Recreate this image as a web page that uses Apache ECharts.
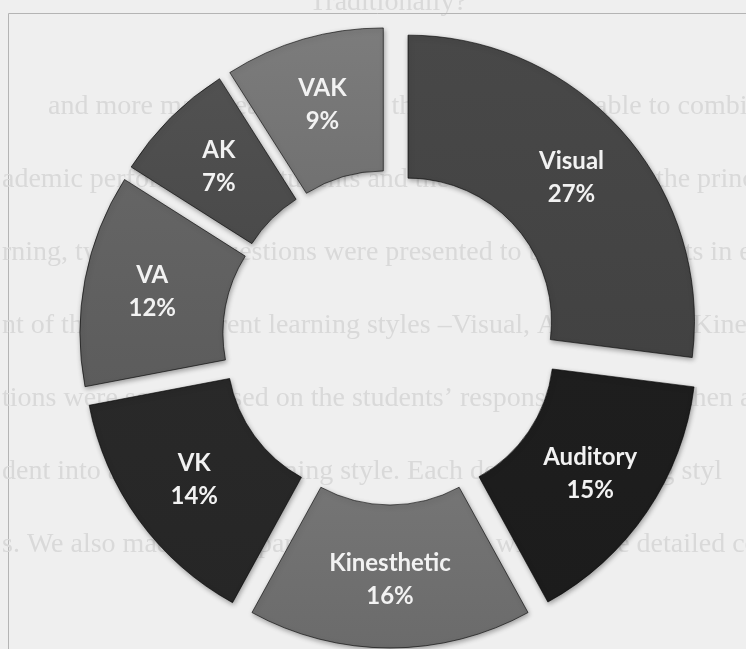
<!DOCTYPE html>
<html>
<head>
<meta charset="utf-8">
<script src="https://cdn.jsdelivr.net/npm/echarts@6/dist/echarts.min.js"></script>
<style>
  html, body { margin: 0; padding: 0; background: #efefef; }
  #chart { width: 746px; height: 649px; }
</style>
</head>
<body>
<div id="chart"></div>
<script>
// Learning style groups and their share of students (percent)
const categories = ['Visual', 'Auditory', 'Kinesthetic', 'VK', 'VA', 'AK', 'VAK'];
const shares = [27, 15, 16, 14, 12, 7, 9];

// Grey fill per slice, same order as categories
const palette = ['#424242', '#1c1c1c', '#6b6b6b', '#262626', '#5c5c5c', '#4a4a4a', '#717171'];

// Page text printed behind the chart
const pageLines = [
  'and more manageable way, so that the teacher is able to combine',
  'ademic performance of students and the learning styles of the principa',
  'rning, twenty-five questions were presented to the respondents in each',
  'nt of the three different learning styles \u2013Visual, Auditory and Kinesthetic one',
  'tions were scored based on the students\u2019 responses and were then asses',
  'dent into a particular learning style. Each dominant learning styl',
  's. We also made a comparison of the scores with a more detailed comparison'
];

const chart = echarts.init(document.getElementById('chart'), null, { renderer: 'canvas' });

function sliceStyle(c) {
  return {
    color: new echarts.graphic.LinearGradient(0, 0, 0, 1, [
      { offset: 0, color: echarts.color.lift(c, -0.1) },
      { offset: 1, color: c }
    ]),
    borderColor: 'rgba(0,0,0,0.6)',
    borderWidth: 1,
    shadowBlur: 5,
    shadowColor: 'rgba(0,0,0,0.35)',
    shadowOffsetX: 1,
    shadowOffsetY: 2
  };
}

const pieData = categories.map((name, i) => ({
  name: name,
  value: shares[i],
  selected: true,
  itemStyle: sliceStyle(palette[i]),
  select: { itemStyle: sliceStyle(palette[i]) }
}));

const pageText = pageLines.map((t, i) => ({
  type: 'text',
  z: 0,
  x: i === 0 ? 48 : 2,
  y: 107 + i * 73,
  style: {
    text: t,
    font: '28px "Liberation Serif"',
    fill: '#d9d9d9',
    verticalAlign: 'middle'
  },
  silent: true
}));

chart.setOption({
  backgroundColor: '#efefef',
  animation: false,
  graphic: {
    elements: [
      {
        type: 'text', z: 0, x: 388, y: 3,
        style: {
          text: 'Traditionally?', font: '28px "Liberation Serif"',
          fill: '#d9d9d9', align: 'center', verticalAlign: 'middle'
        },
        silent: true
      },
      {
        type: 'rect', z: 0,
        shape: { x: 8.5, y: 13.5, width: 780, height: 700 },
        style: { fill: null, stroke: '#b4b4b4', lineWidth: 1 },
        silent: true
      }
    ].concat(pageText)
  },
  series: [{
    type: 'pie',
    z: 5,
    center: [390, 337.5],
    radius: [143.5, 286.5],
    startAngle: 90,
    clockwise: true,
    selectedMode: 'multiple',
    selectedOffset: 24,
    avoidLabelOverlap: false,
    emphasis: { disabled: true },
    label: {
      show: true,
      position: 'inside',
      formatter: '{b}\n{c}%',
      color: '#f2f2f2',
      fontFamily: 'Lato',
      fontWeight: 'bold',
      fontSize: 24,
      lineHeight: 33,
      align: 'center'
    },
    select: {
      label: {
        color: '#f2f2f2',
        fontFamily: 'Lato',
        fontWeight: 'bold',
        fontSize: 24,
        lineHeight: 33
      }
    },
    labelLine: { show: false },
    data: pieData
  }]
});
</script>
</body>
</html>
